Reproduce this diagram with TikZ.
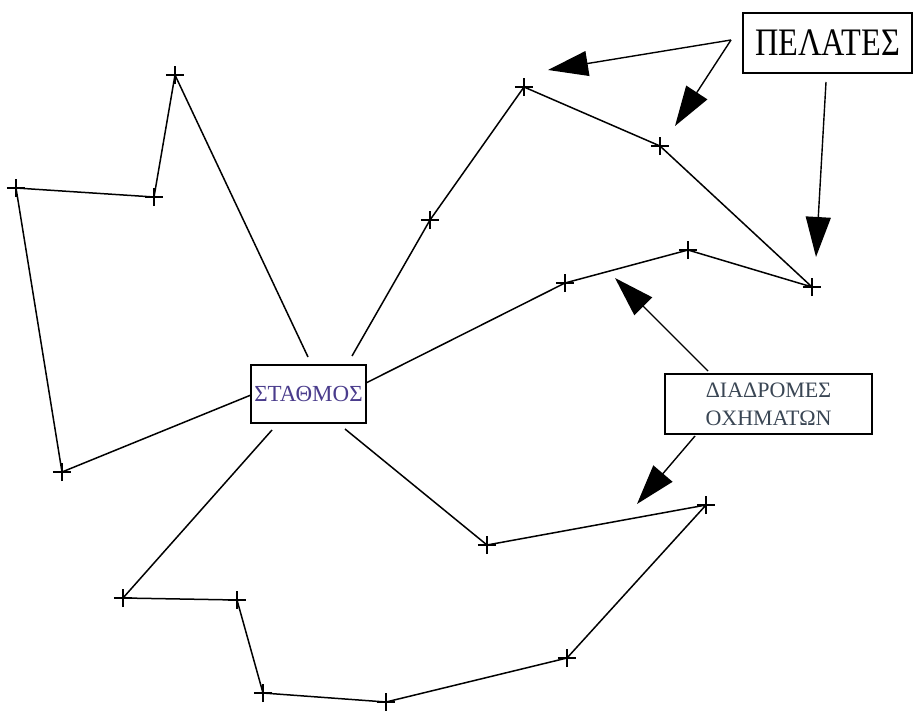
\documentclass[tikz,border=0pt]{standalone}
\usepackage{fontspec}
\setmainfont{Liberation Serif}
\usetikzlibrary{arrows.meta,shapes.misc}
\definecolor{stcol}{HTML}{4A3C8C}
\definecolor{drcol}{HTML}{3A4654}
\begin{document}
\begin{tikzpicture}[x=1pt,y=-1pt,
  route/.style={line width=1.5pt, line join=round},
  pt/.style={draw, cross out, rotate=45, minimum size=11.5pt, inner sep=0pt, line width=1.3pt},
  box/.style={draw, line width=1.6pt, inner sep=0pt, align=center, fill=white},
  bigarrow/.style={line width=1.4pt, -{Triangle[length=40pt,width=25pt]}}]
\useasboundingbox (0,0) rectangle (921,711);
% boxes
\node[box, minimum width=115pt, minimum height=58pt, text=stcol, font=\fontsize{23}{26}\selectfont] (st) at (308.5,394) {ΣΤΑΘΜΟΣ};
\node[box, minimum width=169pt, minimum height=60pt, font=\fontsize{33}{36}\selectfont] (pel) at (827.5,43) {\scalebox{0.98}[1.18]{ΠΕΛΑΤΕΣ}};
\node[box, minimum width=207pt, minimum height=60pt, text=drcol, font=\fontsize{22}{28}\selectfont] (dr) at (768.5,404) {ΔΙΑΔΡΟΜΕΣ\\ΟΧΗΜΑΤΩΝ};
% station connection points
\coordinate (s1) at (308,357);
\coordinate (s2) at (352,356);
\coordinate (s3) at (366,383);
\coordinate (s4) at (251,395);
\coordinate (s5) at (272,430);
\coordinate (s6) at (345,429);
% route 1
\node[pt] (a1) at (175,75) {};
\node[pt] (a2) at (154,197) {};
\node[pt] (a3) at (16,188) {};
\node[pt] (a4) at (62,472) {};
% route 2
\node[pt] (b1) at (430,220) {};
\node[pt] (b2) at (524,87) {};
\node[pt] (b3) at (660,146) {};
\node[pt] (b4) at (812,287) {};
\node[pt] (b5) at (688,250) {};
\node[pt] (b6) at (565,283) {};
% route 3
\node[pt] (c1) at (487,545) {};
\node[pt] (c2) at (706,505) {};
\node[pt] (c3) at (567,658) {};
\node[pt] (c4) at (386,702) {};
\node[pt] (c5) at (263,693) {};
\node[pt] (c6) at (237,600) {};
\node[pt] (c7) at (123,598) {};
\draw[route] (s1) -- (a1.center) -- (a2.center) -- (a3.center) -- (a4.center) -- (s4);
\draw[route] (s2) -- (b1.center) -- (b2.center) -- (b3.center) -- (b4.center) -- (b5.center) -- (b6.center) -- (s3);
\draw[route] (s6) -- (c1.center) -- (c2.center) -- (c3.center) -- (c4.center) -- (c5.center) -- (c6.center) -- (c7.center) -- (s5);
% arrows
\coordinate (pa) at (731,40);
\coordinate (pb) at (826,82);
\coordinate (t1) at (548,70);
\coordinate (t2) at (675,126);
\coordinate (t3) at (816,257);
\coordinate (da) at (708,371);
\coordinate (db) at (695,436);
\coordinate (t4) at (615,278);
\coordinate (t5) at (637,504);
\draw[bigarrow] (pa) -- (t1);
\draw[bigarrow] (pa) -- (t2);
\draw[bigarrow] (pb) -- (t3);
\draw[bigarrow] (da) -- (t4);
\draw[bigarrow] (db) -- (t5);
\end{tikzpicture}
\end{document}
